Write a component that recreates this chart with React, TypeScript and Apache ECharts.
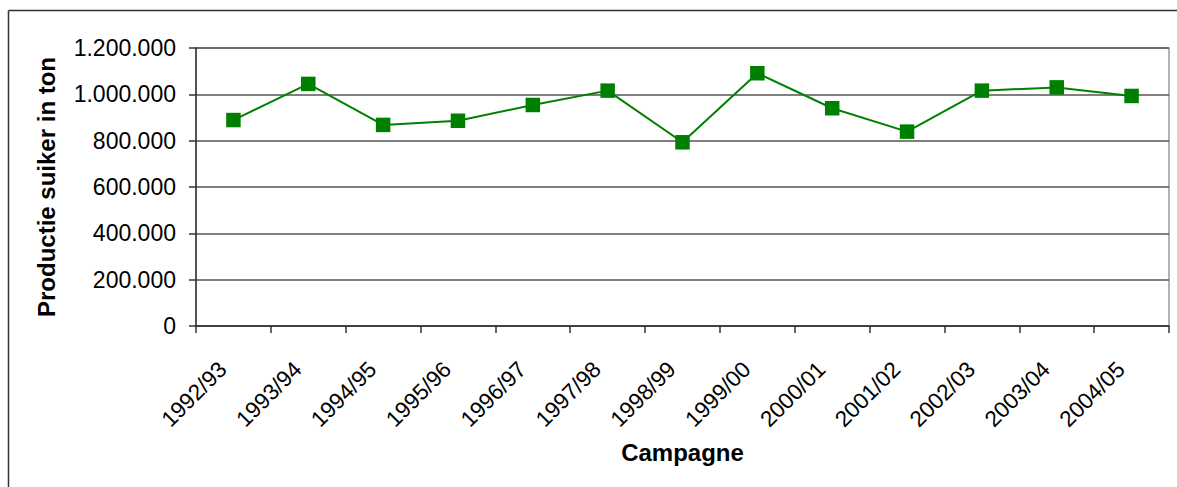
import React, { useEffect, useRef } from "react";
import * as echarts from "echarts";

const categories = [
  "1992/93", "1993/94", "1994/95", "1995/96", "1996/97", "1997/98", "1998/99",
  "1999/00", "2000/01", "2001/02", "2002/03", "2003/04", "2004/05",
];
const production = [
  889000, 1045000, 868000, 886000, 954000, 1016000, 793000,
  1091000, 940000, 839000, 1016000, 1030000, 993000,
];
const yTitle = "Productie suiker in ton";
const xTitle = "Campagne";

const fmt = (v: number) => String(v).replace(/\B(?=(\d{3})+(?!\d))/g, ".");

export default function App() {
  const ref = useRef<HTMLDivElement>(null);
  useEffect(() => {
    if (!ref.current) return;
    const chart = echarts.init(ref.current, null, { renderer: "svg" });
    const font = "'Liberation Sans', Arial, sans-serif";
    chart.setOption({
      animation: false,
      backgroundColor: "#fff",
      textStyle: { fontFamily: font },
      grid: {
        left: 196, right: 8, top: 48, bottom: 161,
        show: true, borderColor: "#999", borderWidth: 1.5, backgroundColor: "transparent",
      },
      graphic: [
        { type: "line", shape: { x1: 8.5, y1: 10.5, x2: 1177, y2: 10.5 }, style: { stroke: "#333", lineWidth: 1.5 } },
        { type: "line", shape: { x1: 8.5, y1: 10.5, x2: 8.5, y2: 487 }, style: { stroke: "#333", lineWidth: 1.5 } },
      ],
      xAxis: {
        type: "category",
        data: categories,
        boundaryGap: true,
        name: xTitle,
        nameLocation: "middle",
        nameGap: 114,
        nameTextStyle: { fontFamily: font, fontWeight: "bold", fontSize: 24, color: "#000" },
        axisLine: { lineStyle: { color: "#333", width: 1.5 } },
        axisTick: { show: true, alignWithLabel: false, length: 7, lineStyle: { color: "#333", width: 1.5 } },
        axisLabel: {
          rotate: 45, fontSize: 22.5, color: "#000", margin: 29, fontFamily: font, interval: 0,
          padding: [0, 15, 0, 0],
        },
        splitLine: { show: false },
      },
      yAxis: {
        type: "value",
        min: 0,
        max: 1200000,
        interval: 200000,
        name: yTitle,
        nameLocation: "middle",
        nameGap: 138,
        nameTextStyle: { fontFamily: font, fontWeight: "bold", fontSize: 24, color: "#000" },
        axisLine: { show: true, lineStyle: { color: "#333", width: 1.5 } },
        axisTick: { show: true, length: 7, lineStyle: { color: "#333", width: 1.5 } },
        axisLabel: { fontSize: 23, color: "#000", margin: 20, fontFamily: font, formatter: (v: number) => fmt(v) },
        splitLine: { show: true, lineStyle: { color: "#555", width: 1.5 } },
      },
      series: [
        {
          type: "line",
          data: production,
          symbol: "rect",
          symbolSize: 14.5,
          lineStyle: { color: "#008000", width: 2 },
          itemStyle: { color: "#008000" },
        },
      ],
    });
    return () => chart.dispose();
  }, []);
  return (
    <div
      ref={ref}
      style={{ position: "fixed", left: 0, top: 0, width: 1177, height: 487 }}
    />
  );
}
